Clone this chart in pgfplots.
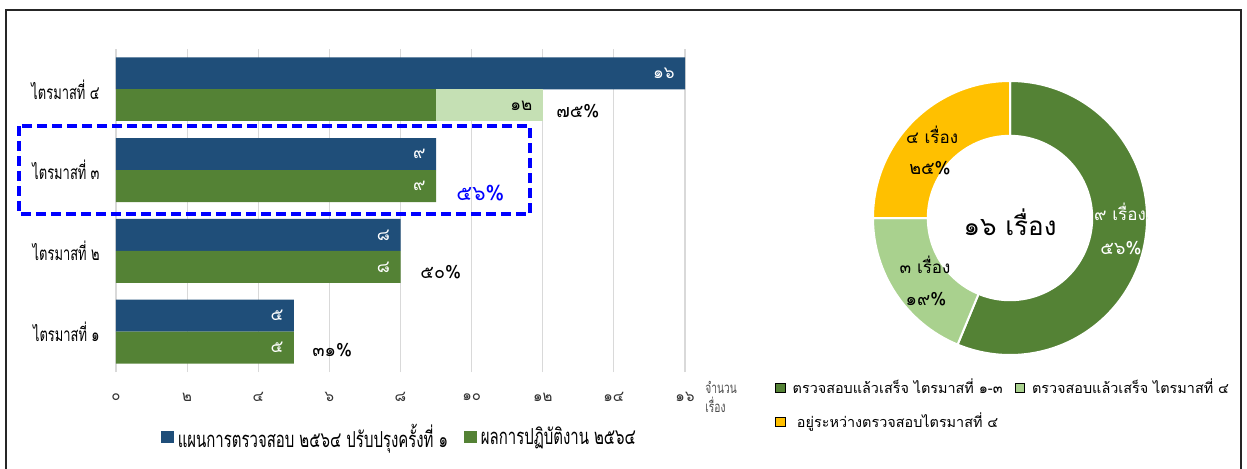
\documentclass[border=0pt]{standalone}
\usepackage{fontspec}
\usepackage{pgfplots}
\pgfplotsset{compat=1.18}
\setmainfont[Script=Thai]{Loma}
\newfontfamily\thai[Script=Thai]{Loma}
\newfontfamily\narrow[Script=Thai,FakeStretch=0.68]{Loma}
\definecolor{cblue}{HTML}{1F4E79}
\definecolor{cgreen}{HTML}{548235}
\definecolor{clight}{HTML}{C5E0B4}
\definecolor{cpielight}{HTML}{A9D18E}
\definecolor{cyellow}{HTML}{FFC000}
\definecolor{gridgray}{HTML}{D9D9D9}
\pgfplotsset{
  sqlegend/.style={legend image code/.code={\fill[##1] (0pt,-3.2pt) rectangle (6.4pt,3.2pt);}},
  smallsq/.style={legend image code/.code={\fill[##1] (0pt,-2.4pt) rectangle (4.8pt,2.4pt);}},
}
\begin{document}
\begin{tikzpicture}[x=0.5pt,y=0.5pt]
\path[use as bounding box] (0,0) rectangle (1247,468);
\draw[line width=1pt, black!85] (6,-10) -- (6,458) -- (1241,458) -- (1241,-10);

\begin{axis}[
  at={(58pt,48pt)}, anchor=south west, scale only axis,
  width=284.5pt, height=161.5pt,
  xmin=0, xmax=16, ymin=0.5, ymax=4.5,
  axis line style={draw=none},
  major tick length=0pt,
  xtick={0,2,...,16},
  xticklabels={๐,๒,๔,๖,๘,๑๐,๑๒,๑๔,๑๖},
  ytick={1,2,3,4},
  yticklabels={ไตรมาสที่ ๑,ไตรมาสที่ ๒,ไตรมาสที่ ๓,ไตรมาสที่ ๔},
  xmajorgrids, grid style={draw=gridgray, line width=0.6pt},
  xticklabel style={font=\thai\fontsize{7.5}{9}\selectfont, text=black!80, anchor=center, yshift=-12.5pt, inner sep=0pt},
  yticklabel style={font=\narrow\fontsize{9.5}{10}\selectfont, anchor=east, xshift=-8pt, inner sep=0pt},
  xlabel={จำนวน\\เรื่อง},
  xlabel style={at={(axis description cs:1,-0.077)}, anchor=west, xshift=10pt, align=left, font=\narrow\fontsize{7.5}{9.5}\selectfont, text=black!70, inner sep=0pt},
  xbar, bar width=16pt,
  point meta=explicit symbolic,
  nodes near coords,
  nodes near coords style={anchor=east, xshift=-5pt, inner sep=0pt, font=\thai\fontsize{8.5}{9}\selectfont},
  legend style={at={(axis description cs:0.5,-0.201)}, anchor=center, draw=none, fill=none,
    font=\narrow\fontsize{11}{12}\selectfont, legend columns=2,
    /tikz/every even column/.append style={column sep=6pt}},
  sqlegend,
]
\addplot[fill=cblue, draw=none, bar shift=8pt, nodes near coords style={text=white}]
  coordinates {(5,1)[๕] (8,2)[๘] (9,3)[๙] (16,4)[๑๖]};
\addlegendentry{แผนการตรวจสอบ ๒๕๖๔ ปรับปรุงครั้งที่ ๑}
\addplot[fill=clight, draw=none, bar shift=-8pt, forget plot, nodes near coords style={text=black}]
  coordinates {(12,4)[๑๒]};
\addplot[fill=cgreen, draw=none, bar shift=-8pt, forget plot, nodes near coords=\relax]
  coordinates {(9,4)[๙]};
\addplot[fill=cgreen, draw=none, bar shift=-8pt, nodes near coords style={text=white}]
  coordinates {(5,1)[๕] (8,2)[๘] (9,3)[๙]};
\addlegendentry{ผลการปฏิบัติงาน ๒๕๖๔}
\node[anchor=west, inner sep=0pt, font=\thai\fontsize{9}{10}\selectfont] at (axis cs:5.51,0.772) {๓๑\%};
\node[anchor=west, inner sep=0pt, font=\thai\fontsize{9}{10}\selectfont] at (axis cs:8.55,1.738) {๕๐\%};
\node[anchor=west, inner sep=0pt, font=\thai\fontsize{10.5}{12}\selectfont, text=blue] at (axis cs:9.56,2.717) {๕๖\%};
\node[anchor=west, inner sep=0pt, font=\thai\fontsize{9}{10}\selectfont] at (axis cs:12.37,3.732) {๗๕\%};
\end{axis}

\draw[blue, line width=2pt, dash pattern=on 5pt off 2.5pt] (19,342) rectangle (530,254);

\def\pA{9}\def\pB{3}\def\pC{4}\def\pT{16}
\begin{axis}[
  at={(505pt,125pt)}, anchor=center, scale only axis,
  width=137pt, height=137pt,
  xmin=-1, xmax=1, ymin=-1, ymax=1,
  hide axis,
  smallsq,
  legend style={at={(axis description cs:-0.38,-0.057)}, anchor=north west, draw=none, fill=none,
    font=\thai\fontsize{7.2}{9}\selectfont, legend columns=2,
    /tikz/every odd column/.append style={column sep=1.5pt},
    /tikz/every even column/.append style={column sep=4pt},
    row sep=4pt},
]
\addlegendimage{fill=cgreen}
\addlegendentry{ตรวจสอบแล้วเสร็จ ไตรมาสที่ ๑-๓}
\addlegendimage{fill=cpielight}
\addlegendentry{ตรวจสอบแล้วเสร็จ ไตรมาสที่ ๔}
\addlegendimage{fill=cyellow}
\addlegendentry{อยู่ระหว่างตรวจสอบไตรมาสที่ ๔}
\fill[cgreen, draw=white, line width=1pt]
  (axis cs:{cos(90)},{sin(90)}) arc[start angle=90, end angle={90-360*\pA/\pT}, radius=68.5pt]
  -- (axis cs:{0.6*cos(90-360*\pA/\pT)},{0.6*sin(90-360*\pA/\pT)})
  arc[start angle={90-360*\pA/\pT}, end angle=90, radius=41.1pt] -- cycle;
\fill[cpielight, draw=white, line width=1pt]
  (axis cs:{cos(90-360*\pA/\pT)},{sin(90-360*\pA/\pT)}) arc[start angle={90-360*\pA/\pT}, end angle={90-360*(\pA+\pB)/\pT}, radius=68.5pt]
  -- (axis cs:{0.6*cos(90-360*(\pA+\pB)/\pT)},{0.6*sin(90-360*(\pA+\pB)/\pT)})
  arc[start angle={90-360*(\pA+\pB)/\pT}, end angle={90-360*\pA/\pT}, radius=41.1pt] -- cycle;
\fill[cyellow, draw=white, line width=1pt]
  (axis cs:{cos(90-360*(\pA+\pB)/\pT)},{sin(90-360*(\pA+\pB)/\pT)}) arc[start angle={90-360*(\pA+\pB)/\pT}, end angle={90-360*(\pA+\pB+\pC)/\pT}, radius=68.5pt]
  -- (axis cs:{0.6*cos(90-360*(\pA+\pB+\pC)/\pT)},{0.6*sin(90-360*(\pA+\pB+\pC)/\pT)})
  arc[start angle={90-360*(\pA+\pB+\pC)/\pT}, end angle={90-360*(\pA+\pB)/\pT}, radius=41.1pt] -- cycle;
\node[font=\thai\fontsize{8.5}{9}\selectfont, text=white] at (axis cs:0.803,0.044) {๙ เรื่อง};
\node[font=\thai\fontsize{9}{9}\selectfont, text=white] at (axis cs:0.81,-0.219) {๕๖\%};
\node[font=\thai\fontsize{8.5}{9}\selectfont] at (axis cs:-0.569,0.606) {๔ เรื่อง};
\node[font=\thai\fontsize{9}{9}\selectfont] at (axis cs:-0.584,0.365) {๒๕\%};
\node[font=\thai\fontsize{8.5}{9}\selectfont] at (axis cs:-0.62,-0.343) {๓ เรื่อง};
\node[font=\thai\fontsize{9}{9}\selectfont] at (axis cs:-0.613,-0.591) {๑๙\%};
\node[font=\thai\fontsize{13}{15}\selectfont] at (axis cs:0,-0.03) {๑๖ เรื่อง};
\end{axis}
\end{tikzpicture}
\end{document}
